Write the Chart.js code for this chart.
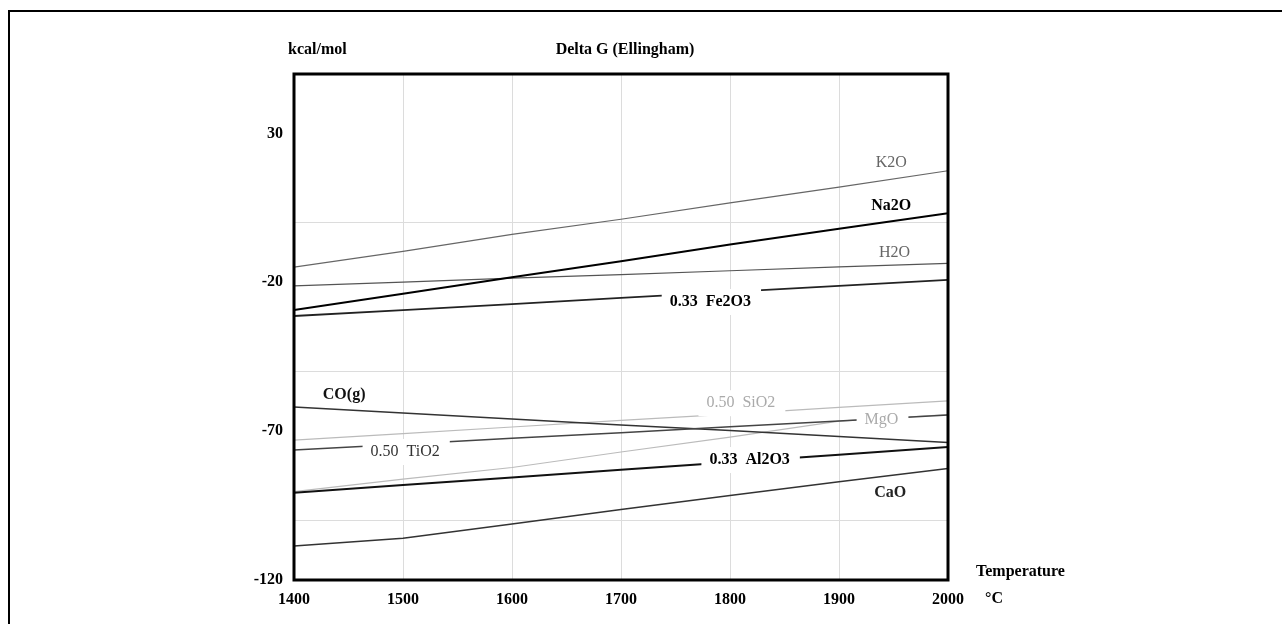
<!DOCTYPE html>
<html>
<head>
<meta charset="utf-8">
<title>Delta G (Ellingham)</title>
<script src="https://cdn.jsdelivr.net/npm/chart.js@4.4.1/dist/chart.umd.min.js"></script>
<style>
    html, body { margin: 0; padding: 0; background: #fff; }
    #wrap { position: relative; width: 1282px; height: 624px; overflow: hidden; }
    #frame { position: absolute; left: 8px; top: 10px; width: 1300px; height: 700px;
             border-left: 2px solid #000; border-top: 2px solid #000; }
    canvas { position: absolute; left: 0; top: 0; }
</style>
</head>
<body>
<div id="wrap">
    <div id="frame"></div>
    <canvas id="ellingham" width="1282" height="624"></canvas>
</div>
<script>
// temperatures (°C) and Delta G values (kcal/mol)
const temps = [1400, 1500, 1600, 1700, 1800, 1900, 2000];
const k2o   = [-14.9, -9.6, -3.9, 1.2, 6.7, 12.0, 17.5];
const na2o  = [-29.3, -23.8, -18.3, -12.9, -7.3, -2.0, 3.2];
const h2o   = [-21.2, -19.9, -18.6, -17.4, -16.1, -14.8, -13.6];
const fe2o3 = [-31.3, -29.3, -27.3, -25.2, -23.2, -21.2, -19.2];
const co    = [-61.9, -63.9, -65.9, -67.9, -69.8, -71.8, -73.8];
const sio2  = [-73.0, -70.8, -68.6, -66.4, -64.3, -62.0, -59.8];
const mgo   = [-90.3, -86.1, -82.2, -77.0, -72.0, -66.6, -64.4];
const tio2  = [-76.3, -74.4, -72.4, -70.5, -68.5, -66.6, -64.6];
const al2o3 = [-90.7, -88.1, -85.6, -83.0, -80.4, -77.9, -75.3];
const cao   = [-108.6, -106.0, -101.2, -96.3, -91.6, -87.0, -82.5];

// y axis: labels and grid lines sit on different values
const yLabelValues = [-120, -70, -20, 30];
const yGridValues = [-100, -50, 0, 50];

// inline labels: text, temperature, value
const labelNames = ['K2O', 'Na2O', 'H2O', '0.33  Fe2O3', 'CO(g)', '0.50  SiO2', 'MgO', '0.50  TiO2', '0.33  Al2O3', 'CaO'];
const labelTemps = [1948, 1948, 1951, 1782, 1446, 1810, 1939, 1502, 1818, 1947];
const labelVals  = [20.1, 5.6, -10.1, -26.6, -57.9, -60.6, -66.3, -77.0, -79.7, -90.8];

const labelStyle = [
    { color: '#666', bold: false, gap: false },
    { color: '#000', bold: true,  gap: false },
    { color: '#666', bold: false, gap: false },
    { color: '#000', bold: true,  gap: true },
    { color: '#111', bold: true,  gap: false },
    { color: '#aaa', bold: false, gap: true },
    { color: '#aaa', bold: false, gap: true },
    { color: '#333', bold: false, gap: true },
    { color: '#000', bold: true,  gap: true },
    { color: '#222', bold: true,  gap: false }
];

const FONT = '"Liberation Serif", "Times New Roman", serif';
Chart.defaults.font.family = FONT;
Chart.defaults.color = '#000';

function pts(arr) {
    return temps.map((t, i) => ({ x: t, y: arr[i] }));
}

function line(name, arr, color, width) {
    return {
        label: name,
        data: pts(arr),
        borderColor: color,
        borderWidth: width,
        pointRadius: 0,
        tension: 0,
        fill: false
    };
}

const labelPlugin = {
    id: 'lineLabels',
    afterDatasetsDraw(chart) {
        const { ctx, scales: { x, y } } = chart;
        ctx.save();
        ctx.textAlign = 'center';
        ctx.textBaseline = 'middle';
        labelNames.forEach((txt, i) => {
            const st = labelStyle[i];
            ctx.font = (st.bold ? 'bold ' : '') + '16px ' + FONT;
            const px = x.getPixelForValue(labelTemps[i]);
            const py = y.getPixelForValue(labelVals[i]);
            if (st.gap) {
                // white patch breaks the line under the label
                const w = ctx.measureText(txt).width;
                ctx.fillStyle = '#fff';
                ctx.fillRect(px - w / 2 - 8, py - 13, w + 18, 26);
            }
            ctx.fillStyle = st.color;
            ctx.fillText(txt, px, py);
        });
        ctx.restore();
    },
    afterDraw(chart) {
        const { ctx, chartArea: a } = chart;
        ctx.save();
        // heavy frame round the plot
        ctx.strokeStyle = '#000';
        ctx.lineWidth = 3;
        ctx.strokeRect(a.left, a.top, a.right - a.left, a.bottom - a.top);

        ctx.fillStyle = '#000';
        ctx.font = 'bold 16px ' + FONT;
        ctx.textBaseline = 'middle';
        ctx.textAlign = 'left';
        ctx.fillText('kcal/mol', a.left - 6, a.top - 24);
        ctx.fillText('Temperature', a.right + 28, a.bottom - 8);
        ctx.fillText('°C', a.right + 37, a.bottom + 19);
        ctx.textAlign = 'center';
        ctx.fillText('Delta G (Ellingham)', a.left + 331, a.top - 24);
        ctx.restore();
    }
};

new Chart(document.getElementById('ellingham').getContext('2d'), {
    type: 'line',
    data: {
        datasets: [
            line('Na2O', na2o, '#000', 2),
            line('0.33 Al2O3', al2o3, '#111', 2),
            line('0.33 Fe2O3', fe2o3, '#222', 1.8),
            line('0.50 TiO2', tio2, '#444', 1.5),
            line('CO(g)', co, '#333', 1.5),
            line('CaO', cao, '#333', 1.5),
            line('K2O', k2o, '#666', 1.2),
            line('H2O', h2o, '#555', 1.2),
            line('0.50 SiO2', sio2, '#bbb', 1.2),
            line('MgO', mgo, '#bbb', 1.2)
        ]
    },
    options: {
        responsive: false,
        animation: false,
        layout: { padding: { left: 0, top: 74, right: 334, bottom: 0 } },
        plugins: {
            legend: { display: false },
            tooltip: { enabled: false }
        },
        scales: {
            x: {
                type: 'linear',
                min: 1400,
                max: 2000,
                border: { display: false },
                grid: { color: '#dcdcdc', lineWidth: 1, drawTicks: false },
                ticks: {
                    stepSize: 100,
                    padding: 10,
                    font: { size: 16, weight: 'bold' },
                    callback: v => String(v)
                },
                afterFit(scale) { scale.height = 44; }
            },
            y: {
                min: -120,
                max: 50,
                border: { display: false },
                afterBuildTicks(scale) {
                    scale.ticks = yLabelValues.concat(yGridValues)
                        .sort((a, b) => a - b)
                        .map(v => ({ value: v }));
                },
                grid: {
                    drawTicks: false,
                    lineWidth: 1,
                    color: c => yGridValues.includes(c.tick.value) ? '#dcdcdc' : 'rgba(0,0,0,0)'
                },
                ticks: {
                    padding: 11,
                    autoSkip: false,
                    font: { size: 16, weight: 'bold' },
                    callback: v => yLabelValues.includes(v) ? String(v) : ''
                },
                afterFit(scale) { scale.width = 294; }
            }
        }
    },
    plugins: [labelPlugin]
});
</script>
</body>
</html>
